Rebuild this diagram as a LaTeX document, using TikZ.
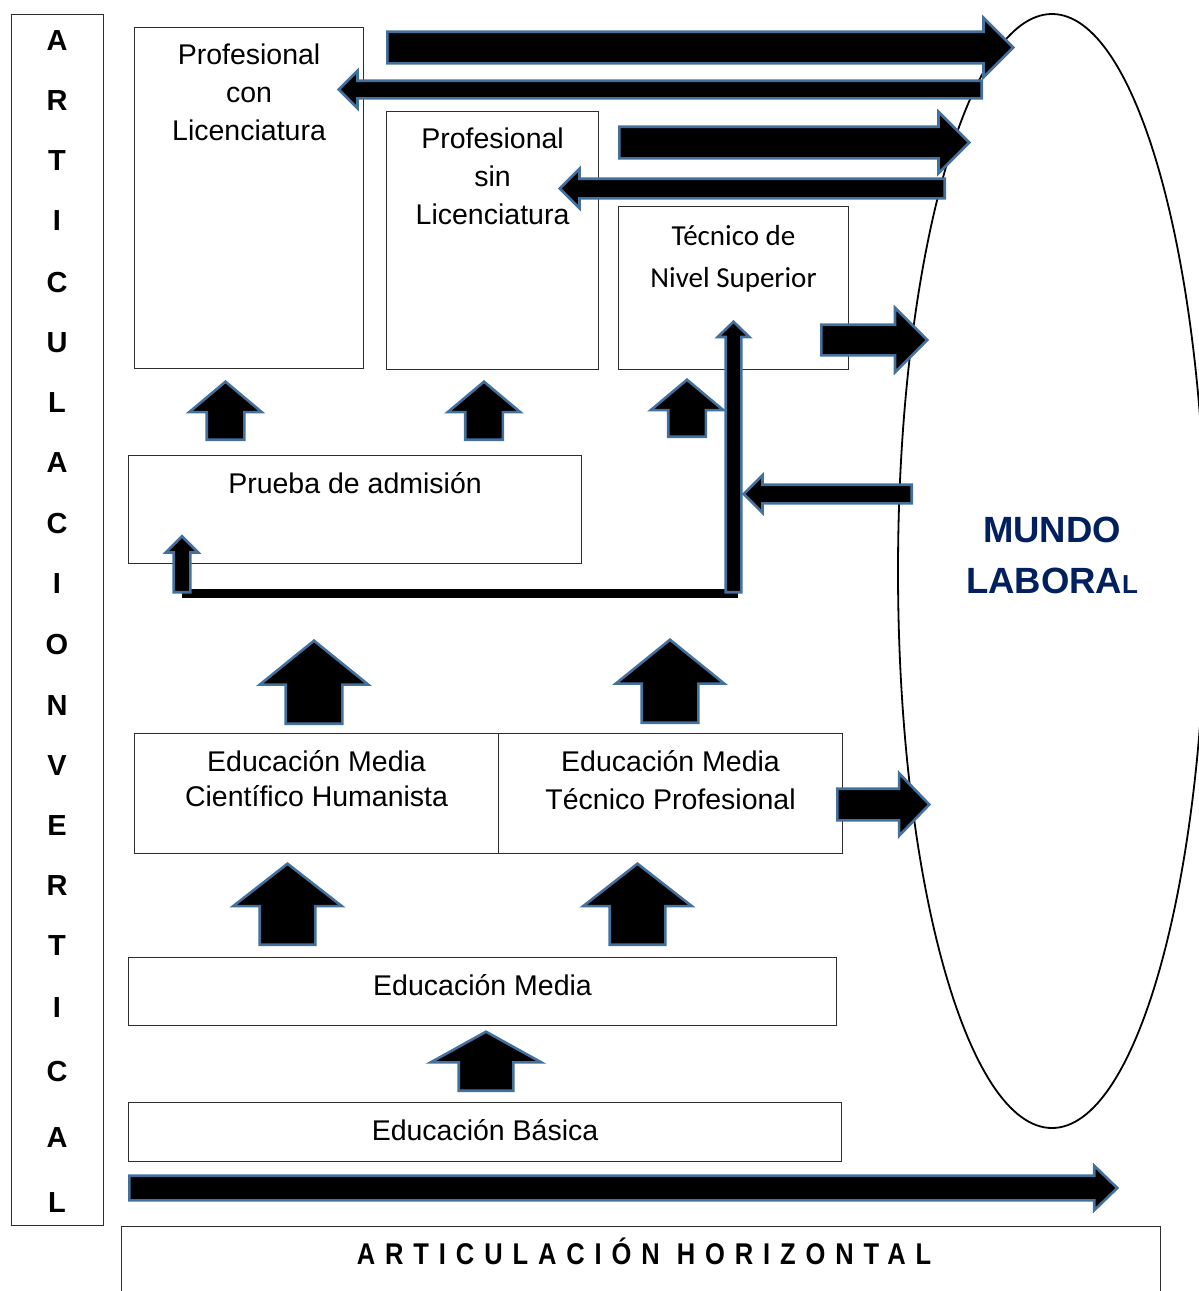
\documentclass[tikz,border=0pt]{standalone}
\usepackage{fontspec}
\setmainfont{Liberation Sans}
\newfontfamily\calfont{Carlito}
\usetikzlibrary{positioning,shapes.geometric,shapes.arrows,backgrounds}
\definecolor{arrowblue}{RGB}{68,112,158}
\definecolor{mundoblue}{RGB}{0,32,96}
\definecolor{boxgray}{RGB}{45,45,45}

\begin{document}
\begin{tikzpicture}[x=1pt,y=-1pt,
        box/.style={draw=boxgray,line width=1.1pt,anchor=north west,inner sep=0pt},
        txt/.style={align=center,inner sep=0pt,font=\fontsize{28.5}{38}\selectfont},
        blockarrow/.style n args={4}{single arrow,fill=black,draw=arrowblue,
                line width=2.6pt,inner xsep=0pt,inner ysep=#2,minimum height=#1,
                single arrow head extend=#3,single arrow tip angle=#4,anchor=tail},
        vletter/.style={inner sep=0pt,font=\fontsize{29}{29}\selectfont\bfseries},
        joinline/.style={line width=9pt,black}]
    \useasboundingbox (0,0) rectangle (1199,1291);

    % mundo laboral
    \node [draw,ellipse,line width=1.8pt,fill=white,inner sep=0pt,
           minimum width=308pt,minimum height=1114pt] (mundo) at (1052,571) {};
    \node [align=center,inner sep=0pt,text=mundoblue,
           font=\fontsize{36.5}{51}\selectfont\bfseries] (mundo-t)
          at ([yshift=16pt]mundo.center) {MUNDO\\LABORA{\fontsize{26}{26}\selectfont L}};

    % articulacion vertical
    \node [box,minimum width=92pt,minimum height=1211pt] (vert) at (11,14) {};
    \foreach \l/\y [count=\i] in {A/41,R/101,T/161,I/221,C/283,U/343,L/403,A/463,
            C/524,I/584,O/645,N/706,V/766,E/826,R/886,T/946,I/1008,C/1072,A/1138,L/1203}
        \node [vletter] (v\i) at (57,\y) {\l};

    % niveles
    \node [box,minimum width=229pt,minimum height=341pt] (pcl) at (134,27) {};
    \node [txt,below=17pt of pcl.north] (pcl-t) {Profesional\\con\\Licenciatura};
    \node [box,minimum width=212pt,minimum height=258pt] (psl) at (386,111) {};
    \node [txt,below=17pt of psl.north] (psl-t) {Profesional\\sin\\Licenciatura};
    \node [box,minimum width=230pt,minimum height=163pt] (tns) at (618,206) {};
    \node [txt,below=19pt of tns.north,font=\calfont\fontsize{29}{42}\selectfont]
          (tns-t) {Técnico de\\Nivel Superior};
    \node [box,minimum width=453pt,minimum height=108pt] (prb) at (128,455) {};
    \node [txt,below=17pt of prb.north] (prb-t) {Prueba de admisión};
    \node [box,minimum width=364pt,minimum height=120pt] (emch) at (134,733) {};
    \node [txt,below=17pt of emch.north,font=\fontsize{28.5}{35}\selectfont]
          (emch-t) {Educación Media\\Científico Humanista};
    \node [box,minimum width=344pt,minimum height=120pt] (emtp) at (498,733) {};
    \node [txt,below=17pt of emtp.north,font=\fontsize{28.5}{38}\selectfont]
          (emtp-t) {Educación Media\\Técnico Profesional};
    \node [box,minimum width=708pt,minimum height=68pt] (em) at (128,957) {};
    \node [txt,below=17pt of em.north] (em-t) {Educación Media};
    \node [box,minimum width=713pt,minimum height=59pt] (eb) at (128,1102) {};
    \node [txt,below=17pt of eb.north] (eb-t) {Educación Básica};

    % articulacion horizontal
    \node [box,minimum width=1039pt,minimum height=120pt] (horiz) at (121,1226) {};
    \node [anchor=base,inner sep=0pt,
           font=\fontsize{30}{30}\selectfont\bfseries\addfontfeatures{FakeStretch=0.85,LetterSpace=33}]
          (horiz-t) at (644,1264) {ARTICULACIÓN HORIZONTAL};

    % flechas hacia y desde el mundo laboral
    \node [blockarrow={626}{14.5}{14}{90}]             (r1) at (386,47.5) {};
    \node [blockarrow={643}{7.5}{10}{90},rotate=180]   (l1) at (983,89.5) {};
    \node [blockarrow={350}{14.5}{15}{90}]             (r2) at (618,142.5) {};
    \node [blockarrow={385}{8.5}{10}{90},rotate=180]   (l2) at (946,188.5) {};
    \node [blockarrow={106}{14}{17}{90}]               (r3) at (820,340) {};
    \node [blockarrow={168}{8}{9.5}{90},rotate=180]    (l3) at (913,494) {};
    \node [blockarrow={92}{14.5}{15.5}{92}]            (r4) at (836,804.5) {};
    \node [blockarrow={988}{11}{10}{88}]               (rh) at (128,1188) {};

    % flechas hacia arriba
    \node [blockarrow={58}{17.5}{17.5}{100},rotate=90]  (u-pcl) at (225.5,441) {};
    \node [blockarrow={58}{17.5}{17.5}{100},rotate=90]  (u-psl) at (484,441) {};
    \node [blockarrow={57}{17.5}{17.5}{100},rotate=90]  (u-tns) at (687,438) {};
    \node [blockarrow={56}{7}{8}{90},rotate=90]         (u-prb) at (182,593.5) {};
    \node [blockarrow={270.5}{6.5}{8}{92},rotate=90]    (u-lng) at (733.5,593.5) {};
    \node [blockarrow={83}{27}{26}{102},rotate=90]      (u-emch) at (314,725) {};
    \node [blockarrow={83}{27}{26}{102},rotate=90]      (u-emtp) at (670,724) {};
    \node [blockarrow={81}{26.5}{26.5}{104},rotate=90]  (u-em1) at (287.5,946) {};
    \node [blockarrow={81}{26.5}{26.5}{104},rotate=90]  (u-em2) at (637.5,946) {};
    \node [blockarrow={59}{26}{28}{122},rotate=90]      (u-eb) at (486,1092) {};

    \begin{scope}[on background layer]
        \draw [joinline] (u-prb.tail) -- ([xshift=4pt]u-lng.tail);
    \end{scope}
\end{tikzpicture}
\end{document}
